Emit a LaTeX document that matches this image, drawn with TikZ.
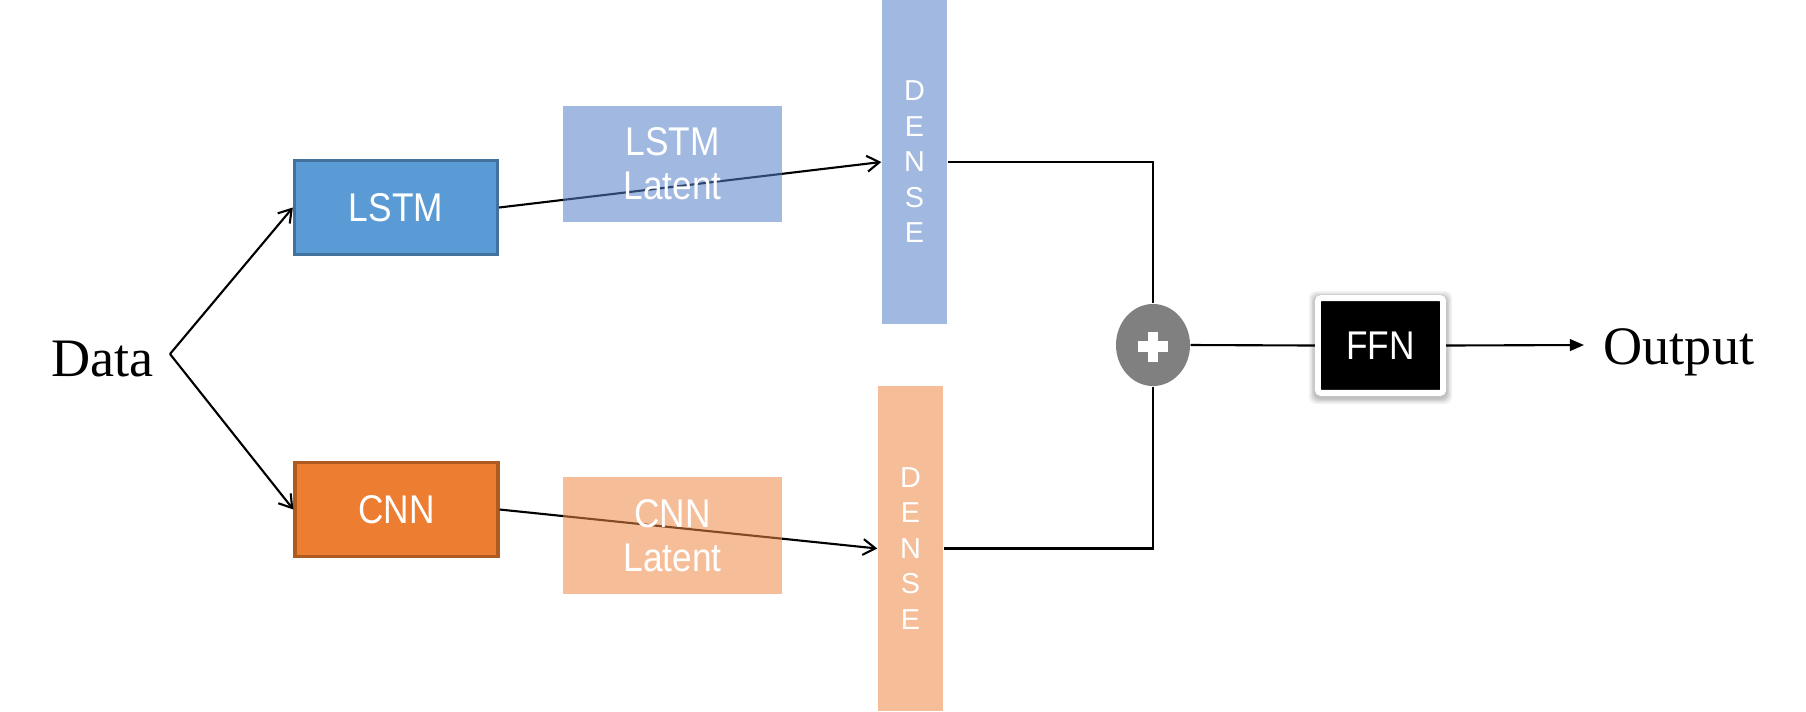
\documentclass[tikz,border=0pt]{standalone}
\usepackage{fontspec}
\setmainfont{Liberation Serif}
\newfontfamily\sx[FakeStretch=0.88]{Liberation Sans}
\newfontfamily\sxd{Liberation Sans}
\usetikzlibrary{arrows.meta,shapes.geometric}
\definecolor{lstmblue}{HTML}{5B9BD5}
\definecolor{lstmborder}{HTML}{41719C}
\definecolor{cnnorange}{HTML}{ED7D31}
\definecolor{cnnborder}{HTML}{AE5A21}
\definecolor{denseblue}{RGB}{161,184,225}
\definecolor{denseorange}{RGB}{246,190,152}
\definecolor{latblue}{RGB}{84,126,200}
\definecolor{latorange}{RGB}{239,137,68}
\definecolor{plusgray}{RGB}{128,128,128}
\begin{document}
\begin{tikzpicture}[x=0.01cm,y=-0.01cm,
  conn/.style={draw=black,line width=0.6pt},
  openhead/.style={-{Straight Barb[length=3.5pt,width=4.5pt,line width=0.6pt]}},
  fullhead/.style={-{Triangle[length=4pt,width=3.3pt]}},
  sxfont/.style={font=\sx\fontsize{11.4pt}{12.5pt}\selectfont},
  mainbox/.style={rectangle,inner sep=0pt,minimum width=2.03cm,minimum height=0.94cm,line width=0.9pt,text=white,sxfont},
  latbox/.style={rectangle,inner sep=0pt,minimum width=2.19cm,minimum height=1.165cm,fill opacity=0.55,text opacity=1,text=white,align=center,sxfont},
  densebox/.style={rectangle,inner sep=0pt,minimum width=0.65cm,minimum height=3.245cm,text=white,align=center,font=\sxd\fontsize{8.2pt}{10.1pt}\selectfont},
  bigtext/.style={inner sep=0pt,anchor=base west,font=\fontsize{15.4pt}{18pt}\selectfont}]
\useasboundingbox (0,0) rectangle (1806,711);
\fill[white] (0,0) rectangle (1806,711);

% text labels
\node[bigtext] (data) at (51,376) {Data};
\coordinate (split) at (170,354);

% main boxes
\node[mainbox,fill=lstmblue,draw=lstmborder] (lstm) at (396,207.5) {LSTM};
\node[mainbox,fill=cnnorange,draw=cnnborder] (cnn) at (396.5,509.5) {CNN};

% dense layers
\node[densebox,fill=denseblue] (dense1) at (914.5,162) {D\\E\\N\\S\\E};
\node[densebox,fill=denseorange] (dense2) at (910.5,548.5) {D\\E\\N\\S\\E};

% merge
\node[ellipse,fill=plusgray,inner sep=0pt,minimum width=0.74cm,minimum height=0.82cm] (plus) at (1153,345) {};
\draw[white,line width=3pt] ([xshift=-0.15cm,yshift=-0.015cm]plus.center) -- ([xshift=0.15cm,yshift=-0.015cm]plus.center);
\draw[white,line width=3pt] ([yshift=0.135cm]plus.center) -- ([yshift=-0.165cm]plus.center);

% FFN with soft shadow
\foreach \e/\o in {6/0.05,4.5/0.06,3/0.07,1.5/0.08}{
  \fill[black,opacity=\o,rounded corners=2pt] (1315-\e,295-\e+2) rectangle (1446+\e,396+\e+2);
}
\node[rectangle,fill=black,draw=white,line width=1.7pt,rounded corners=0.8pt,inner sep=0pt,minimum width=1.25cm,minimum height=0.945cm,text=white,sxfont] (ffn) at (1380.5,345.5) {FFN};
\coordinate (outtip) at (1584,345);
\node[bigtext] (output) at (1603,364) {Output};

% connectors
\draw[conn,openhead] (split) -- (lstm.west);
\draw[conn,openhead] (split) -- (cnn.west);
\draw[conn,openhead] (lstm.east) -- (dense1.west);
\draw[conn,openhead] (cnn.east) -- (dense2.west);
\draw[conn] (dense1.east) -| (plus.north);
\draw[conn] (dense2.east) -| (plus.south);
\draw[conn] (plus.east) -- (ffn.west);
\draw[conn,fullhead] (ffn.east) -- (outtip);

% latent boxes (semi-transparent, over the connectors)
\node[latbox,fill=latblue] (lstmlat) at (672.5,164) {LSTM\\Latent};
\node[latbox,fill=latorange] (cnnlat) at (672.5,535.5) {CNN\\Latent};
\end{tikzpicture}
\end{document}
